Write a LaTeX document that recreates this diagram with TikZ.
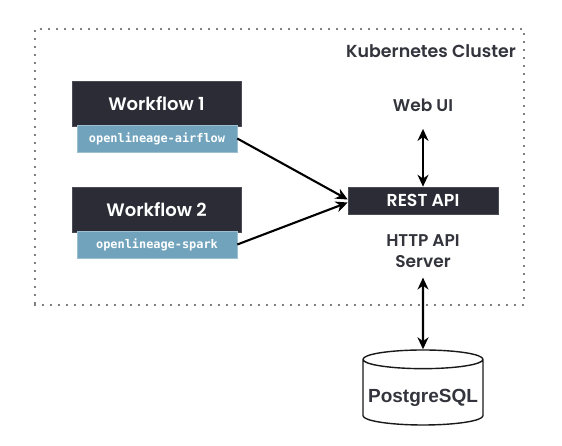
\documentclass[tikz,border=0pt]{standalone}
\usepackage{fontspec}
\setmainfont{Poppins Medium}[BoldFont=Poppins SemiBold]
\setmonofont{DejaVu Sans Mono}
\newfontfamily\dbfont{Liberation Sans}
\usetikzlibrary{arrows.meta,shapes.geometric}
\definecolor{darkbox}{HTML}{2B2C35}
\definecolor{bluebox}{HTML}{71A3BD}
\definecolor{labelgray}{HTML}{33343C}
\tikzset{
  workflow/.style={fill=darkbox,draw=darkbox!85!white,line width=.6pt,text=white,minimum width=169pt,minimum height=45pt,inner sep=0pt,font=\fontsize{18}{20}\selectfont\bfseries},
  facet/.style={fill=bluebox,draw=bluebox!70!white,line width=.5pt,text=white,minimum width=160pt,minimum height=27pt,inner sep=0pt,font=\ttfamily\bfseries\fontsize{11.9}{13}\selectfont},
  flow/.style={-{Stealth[length=12pt,width=11pt]},line width=2.1pt},
  both/.style={{Stealth[length=12pt,width=11pt]}-{Stealth[length=12pt,width=11pt]},line width=2.1pt},
  label/.style={text=labelgray,align=center,font=\fontsize{17}{21}\selectfont\bfseries}
}
\begin{document}
\begin{tikzpicture}[x=1pt,y=-1pt]
  \useasboundingbox (0,0) rectangle (562,445);
  \fill[white] (0,0) rectangle (562,445);
  % cluster
  \node[draw,line width=1.9pt,dash pattern=on 0pt off 8pt,line cap=round,minimum width=489pt,minimum height=276pt,inner sep=0pt] (cluster) at (279.5,167) {};
  \node[label,anchor=east,inner sep=0pt,font=\fontsize{17.4}{21}\selectfont\bfseries] (title) at (516,51) {Kubernetes Cluster};
  % workflows
  \node[workflow] (wf1) at (156.5,103.5) {Workflow 1};
  \node[facet] (airflow) at (157,138.5) {openlineage-airflow};
  \node[workflow] (wf2) at (156.5,209.5) {Workflow 2};
  \node[facet] (spark) at (157,244.5) {openlineage-spark};
  % server
  \node[label] (webui) at (423,105) {Web UI};
  \node[fill=darkbox,draw=darkbox!85!white,line width=.6pt,text=white,minimum width=150pt,minimum height=27pt,inner sep=0pt,font=\fontsize{17.3}{18}\selectfont\bfseries] (rest) at (423,200.5) {REST API};
  \node[label] (server) at (423,251.5) {HTTP API\\Server};
  \node[draw=black!90,line width=1.4pt,cylinder,shape border rotate=90,aspect=.17,minimum width=120pt,minimum height=75pt,inner sep=0pt,text height=19pt,text depth=0pt,font=\dbfont\bfseries\fontsize{19}{22}\selectfont,text=labelgray] (pg) at (423,392.5) {PostgreSQL};
  % connectors
  \draw[flow] (airflow.east) -- ([yshift=1pt]rest.west);
  \draw[flow] (spark.east) -- ([yshift=-2pt]rest.west);
  \draw[both] ([yshift=-14pt]webui.south) -- (rest.north);
  \draw[both] ([yshift=-6pt]server.south) -- (pg.north);
\end{tikzpicture}
\end{document}
